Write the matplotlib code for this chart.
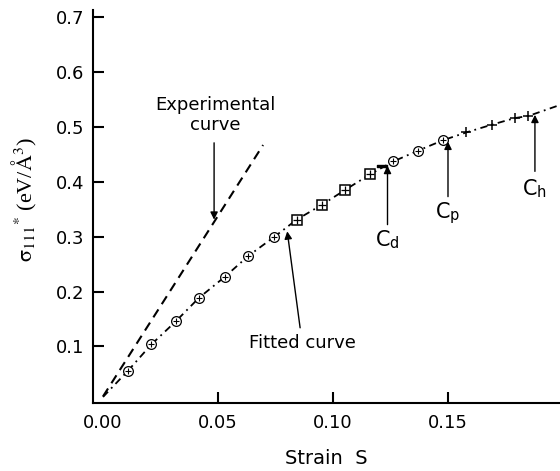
import numpy as np
import matplotlib.pyplot as plt

plt.rcParams['font.family'] = ['DejaVu Sans']
plt.rcParams['mathtext.fontset'] = 'stix'

# fitted curve data points (strain, stress)
circ1_x = [0.0107, 0.0210, 0.0317, 0.0417, 0.0530, 0.0632, 0.0744]
circ1_y = [0.055, 0.1036, 0.146, 0.1885, 0.227, 0.265, 0.2995]
sq_x = [0.0842, 0.0951, 0.1052, 0.1161]
sq_y = [0.331, 0.358, 0.385, 0.4136]
cd_x = [0.1212]
cd_y = [0.425]
circ2_x = [0.1262, 0.1371, 0.1480]
circ2_y = [0.437, 0.457, 0.476]
cross_x = [0.158, 0.169, 0.179, 0.185]
cross_y = [0.490, 0.504, 0.516, 0.520]

# fitted curve path (through the points, extended to the frame edge)
fit_x = [0.0, 0.0107, 0.0210, 0.0317, 0.0417, 0.0530, 0.0632, 0.0744, 0.0842,
         0.0951, 0.1052, 0.1161, 0.1262, 0.1371, 0.1480, 0.158, 0.169, 0.179,
         0.185, 0.1987]
fit_y = [0.008, 0.055, 0.1036, 0.146, 0.1885, 0.227, 0.265, 0.2995, 0.331,
         0.358, 0.385, 0.4136, 0.437, 0.457, 0.476, 0.490, 0.504, 0.516,
         0.520, 0.540]

# experimental (linear) curve
exp_x = [0.0, 0.0696]
exp_y = [0.009, 0.467]

fig = plt.figure(figsize=(5.6, 4.71), dpi=100)
ax = fig.add_axes([93 / 560, 68 / 471, 467 / 560, 393 / 471])

ax.plot(exp_x, exp_y, color='k', lw=1.5, linestyle=(0, (4.5, 3)))
ax.plot(fit_x, fit_y, color='k', lw=1.3, linestyle=(0, (4, 2.5, 1, 2.5)))

ax.plot(circ1_x + circ2_x, circ1_y + circ2_y, 'o', ms=7, mfc='white', mec='k', mew=0.9)
ax.plot(circ1_x + circ2_x, circ1_y + circ2_y, '+', ms=5, mec='k', mew=0.8)
ax.plot(sq_x, sq_y, 's', ms=7, mfc='white', mec='k', mew=1.1)
ax.plot(sq_x, sq_y, '+', ms=6, mec='k', mew=0.9)
ax.plot(cd_x, cd_y, marker=r'$\neg$', ms=7, color='k', ls='none')
ax.plot(cross_x, cross_y, '+', ms=7, mec='k', mew=1.1)

arrow = dict(arrowstyle='-|>', lw=1.0, color='k', mutation_scale=11,
             shrinkA=0, shrinkB=0)

ax.text(0.0487, 0.557, 'Experimental\ncurve', ha='center', va='top',
        fontsize=13, linespacing=1.15, multialignment='center')
ax.annotate('', xy=(0.0483, 0.331), xytext=(0.0483, 0.471), arrowprops=arrow)

ax.text(0.0865, 0.107, 'Fitted curve', ha='center', va='center', fontsize=13)
ax.annotate('', xy=(0.0801, 0.3097), xytext=(0.0857, 0.134), arrowprops=arrow)

ax.annotate('', xy=(0.1237, 0.429), xytext=(0.1237, 0.322), arrowprops=arrow)
ax.text(0.1237, 0.316, r'C$_\mathregular{d}$', ha='center', va='top', fontsize=15)

ax.annotate('', xy=(0.150, 0.473), xytext=(0.150, 0.373), arrowprops=arrow)
ax.text(0.150, 0.366, r'C$_\mathregular{p}$', ha='center', va='top', fontsize=15)

ax.annotate('', xy=(0.1878, 0.522), xytext=(0.1878, 0.419), arrowprops=arrow)
ax.text(0.1878, 0.409, r'C$_\mathregular{h}$', ha='center', va='top', fontsize=15)

ax.set_xlim(-0.00435, 0.1987)
ax.set_ylim(-0.003, 0.713)

ax.set_xticks([0.0, 0.05, 0.10, 0.15])
ax.set_xticklabels(['0.00', '0.05', '0.10', '0.15'])
ax.set_yticks([0.1, 0.2, 0.3, 0.4, 0.5, 0.6, 0.7])
ax.set_yticklabels(['0.1', '0.2', '0.3', '0.4', '0.5', '0.6', '0.7'])
ax.xaxis.get_major_ticks()[0].tick1line.set_visible(False)

ax.tick_params(direction='in', length=8, width=1.5, labelsize=13)
ax.tick_params(axis='x', pad=8)
ax.tick_params(axis='y', pad=6)

for side in ['top', 'right']:
    ax.spines[side].set_visible(False)
for side in ['left', 'bottom']:
    ax.spines[side].set_linewidth(1.5)

ax.set_xlabel('Strain  S', fontsize=14, labelpad=12)
ax.set_ylabel(r'$\mathrm{\sigma}_{111}{}^{*}$ (eV/$\mathrm{\AA}^{3}$)',
              fontsize=16, family='Liberation Serif')
ax.yaxis.set_label_coords(-0.115, 0.517)

fig.savefig('out.png', dpi=100)
